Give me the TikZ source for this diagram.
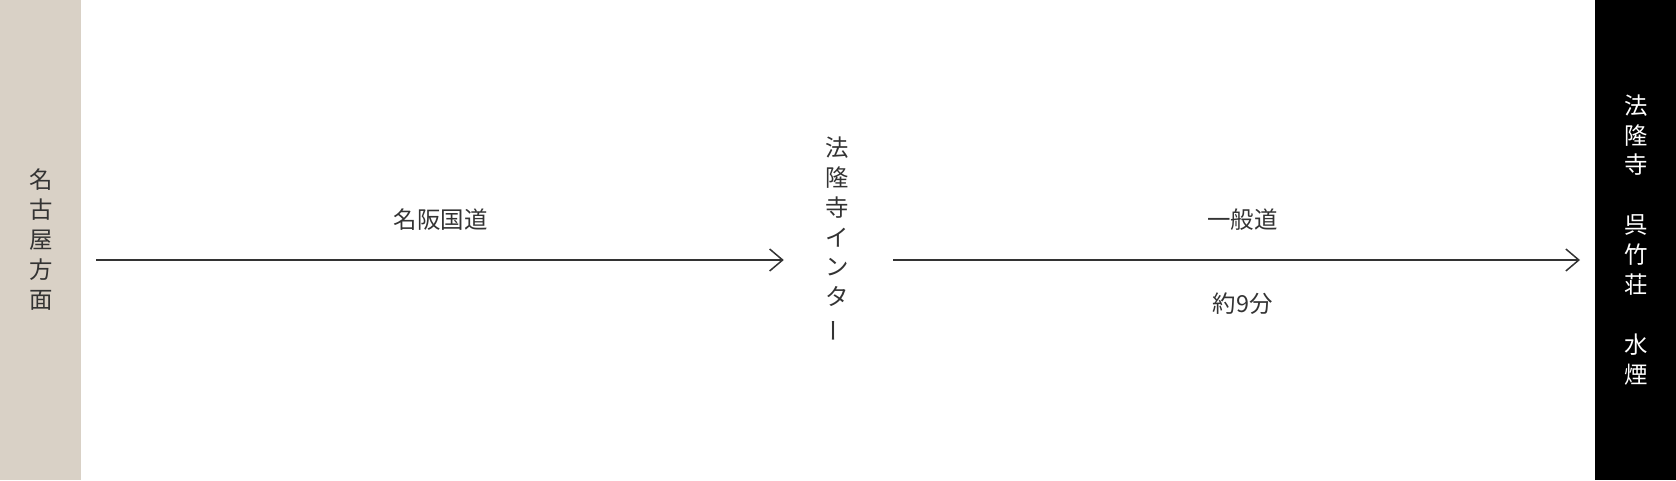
\documentclass[tikz,border=0pt]{standalone}
\usepackage{fontspec}
\setmainfont{Noto Sans CJK JP}
\usetikzlibrary{positioning,arrows.meta}
\definecolor{barbeige}{HTML}{D9D1C6}
\definecolor{inkgray}{HTML}{333333}

\begin{document}
\begin{tikzpicture}[
  x=0.3mm, y=0.3mm, >={Straight Barb[length=3.9mm,width=6.6mm]},
  font=\fontsize{20pt}{25.5pt}\selectfont, text=inkgray,
  bar/.style={rectangle,inner sep=0,minimum width=24.3mm,minimum height=144mm,align=center,anchor=south west},
  road/.style={->,line width=0.45mm,draw=inkgray},
  lbl/.style={inner sep=0}
]
\useasboundingbox (0,0) rectangle (1676,480);

% Side bars
\node[bar, fill=barbeige] (nagoya) at (0,0) {名\\古\\屋\\方\\面};
\node[bar, fill=black, text=white] (hotel) at (1595,0)
      {法\\隆\\寺\\　\\呉\\竹\\荘\\　\\水\\煙};

% Interchange
\node[align=center, inner sep=0, minimum width=31.8mm] (inter) at (837,240.5)
      {法\\隆\\寺\\イ\\ン\\タ\\\rotatebox[origin=c]{90}{ー}};

% Roads
\draw[road, shorten <=4.5mm] (nagoya.east |- 0,220) --
      node[lbl, xshift=2.4mm, yshift=12mm] (meihan) {名阪国道} (inter.west |- 0,220);
\draw[road, shorten <=0.9mm, shorten >=4.5mm] (inter.east |- 0,220) --
      node[lbl, yshift=12mm] (ippan) {一般道}
      node[lbl, yshift=-13.2mm] (time) {約9分} (hotel.west |- 0,220);
\end{tikzpicture}
\end{document}
